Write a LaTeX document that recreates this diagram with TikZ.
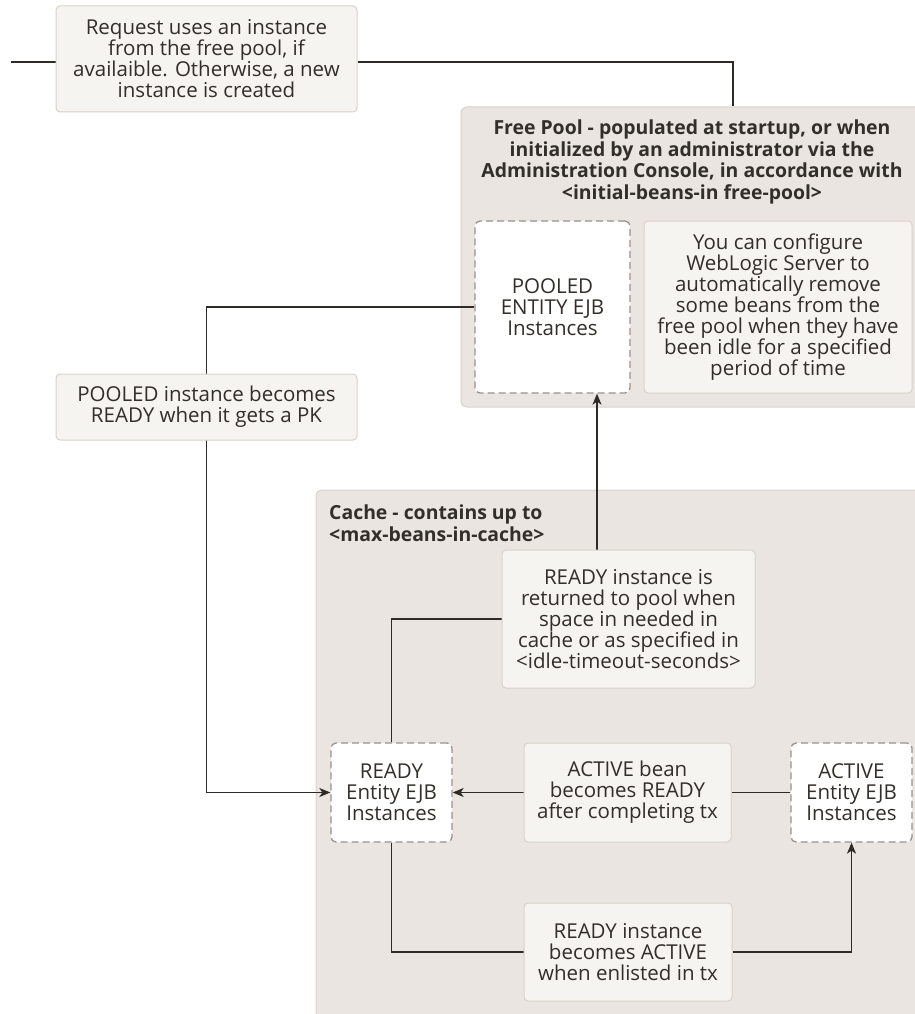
\documentclass[tikz,border=0pt]{standalone}
\usepackage{fontspec}
\setmainfont{Open Sans}
\usetikzlibrary{arrows.meta,calc}
\pgfdeclarelayer{back}
\pgfdeclarelayer{wires}
\pgfsetlayers{back,wires,main}
\definecolor{ink}{RGB}{50,46,42}
\definecolor{wire}{RGB}{45,42,40}
\definecolor{groupfill}{RGB}{234,229,224}
\definecolor{groupline}{RGB}{218,211,204}
\definecolor{notefill}{RGB}{245,244,241}
\definecolor{noteline}{RGB}{218,210,200}
\definecolor{dashline}{RGB}{155,145,139}
\begin{document}
\begin{tikzpicture}[x=1pt,y=-1pt,
  every node/.style={font=\fontsize{20.5}{21}\selectfont, text=ink, align=center, inner sep=0pt},
  note/.style={draw=noteline, fill=notefill, rounded corners=4pt, line width=1pt},
  statebox/.style={draw=dashline, fill=white, dash pattern=on 7pt off 4pt, rounded corners=5pt, line width=1.3pt},
  group/.style={draw=groupline, fill=groupfill, rounded corners=6pt, line width=1pt},
  wireline/.style={draw=wire, line width=1.3pt},
  arr/.style={wireline, -{Stealth[length=11pt,width=9pt,inset=3pt]}},
  grouptitle/.style={font=\bfseries\fontsize{19.4}{21.7}\selectfont}
]
\useasboundingbox (0,0) rectangle (915,1014);

% containers
\begin{pgfonlayer}{back}
  \node[group, minimum width=464pt, minimum height=300pt] (pool) at (693,257) {};
  \node[group, minimum width=609pt, minimum height=534pt] (cache) at (620.5,757) {};
\end{pgfonlayer}

\node[grouptitle] (pooltitle) at (692,162)
  {Free Pool - populated at startup, or when\\initialized by an administrator via the\\Administration Console, in accordance with\\<initial-beans-in free-pool>};
\node[grouptitle, anchor=west, align=left] (cachetitle) at (329,523)
  {Cache - contains up to\\<max-beans-in-cache>};

% notes
\node[note, minimum width=301pt, minimum height=106pt] (req) at (206.5,59)
  {Request uses an instance\\from the free pool, if\\availaible. Otherwise, a new\\instance is created};
\node[note, minimum width=268pt, minimum height=172pt] (idle) at (778,307)
  {You can configure\\WebLogic Server to\\automatically remove\\some beans from the\\free pool when they have\\been idle for a specified\\period of time};
\node[note, minimum width=301pt, minimum height=66pt] (pk) at (206.5,407)
  {POOLED instance becomes\\READY when it gets a PK};
\node[note, minimum width=253pt, minimum height=138pt] (ret) at (628.5,619)
  {READY instance is\\returned to pool when\\space in needed in\\cache or as specified in\\<idle-timeout-seconds>};
\node[note, minimum width=207pt, minimum height=99pt] (done) at (627.5,792.5)
  {ACTIVE bean\\becomes READY\\after completing tx};
\node[note, minimum width=208pt, minimum height=98pt] (enlist) at (628,952)
  {READY instance\\becomes ACTIVE\\when enlisted in tx};

% bean states
\node[statebox, minimum width=155pt, minimum height=172pt] (pooled) at (552.5,307)
  {POOLED\\ENTITY EJB\\Instances};
\node[statebox, minimum width=121pt, minimum height=99pt] (ready) at (391.5,792.5)
  {READY\\Entity EJB\\Instances};
\node[statebox, minimum width=121pt, minimum height=99pt] (active) at (851.5,792.5)
  {ACTIVE\\Entity EJB\\Instances};

% connectors
\coordinate (entry) at (11,62);
\begin{pgfonlayer}{wires}
  \draw[wireline] (entry) -- (entry -| req.west);
  \draw[wireline] (entry -| req.east) -| ([xshift=40pt]pool.north);
  \draw[arr] (pooled.west) -| ($(pooled.west)!1!(pk.north)$) |- (ready.west);
  \draw[arr] ([xshift=-31.5pt]ret.north) -- ([xshift=-31.5pt]ret.north |- pooled.south);
  \draw[wireline] (ret.west) -| (ready.north);
  \draw[arr] (done.west) -- (ready.east);
  \draw[wireline] (active.west) -- (done.east);
  \draw[wireline] (ready.south) |- (enlist.west);
  \draw[arr] (enlist.east) -| (active.south);
\end{pgfonlayer}
\end{tikzpicture}
\end{document}
